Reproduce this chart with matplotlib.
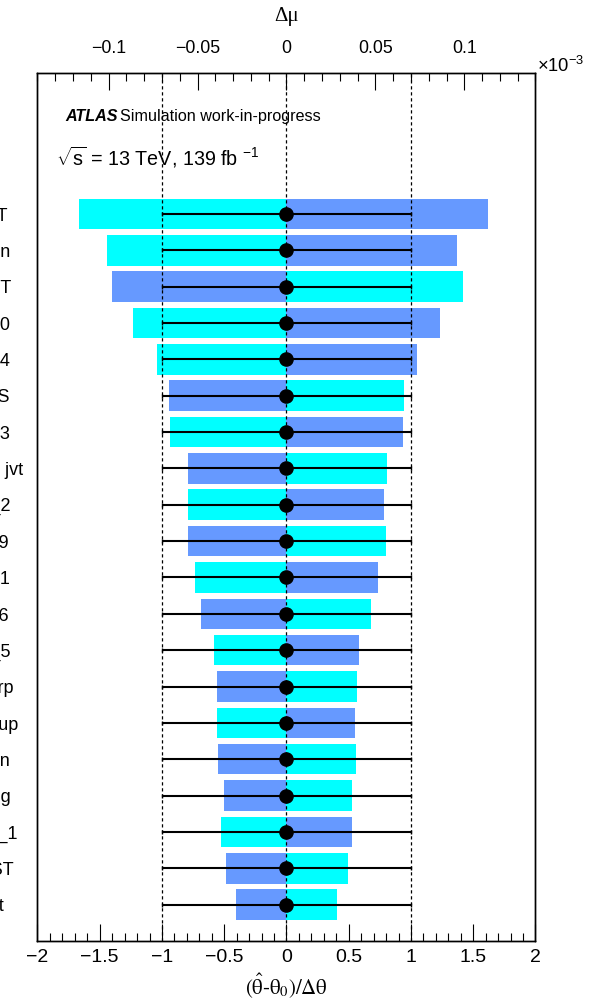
import numpy as np
import matplotlib.pyplot as plt
from matplotlib import ticker, transforms

plt.rcParams['font.family'] = ['Liberation Sans', 'DejaVu Sans']
plt.rcParams['mathtext.fontset'] = 'custom'
plt.rcParams['mathtext.rm'] = 'Liberation Sans'
plt.rcParams['mathtext.it'] = 'Liberation Sans:italic'
plt.rcParams['mathtext.bf'] = 'Liberation Sans:bold'

# nuisance parameters, ranked by impact (largest first)
names = [
    'ttbar_PS_Herwig_tMET',
    'JET_FlavorComposition',
    'ttbar_ISRFSR_Up_MET',
    'FT_EFF_Eigen_Light_0',
    'FT_EFF_Eigen_Light_4',
    'ttbar_NNLO_pTtop_IPS',
    'FT_EFF_Eigen_Light_3',
    'JET_JvtEfficiency_Sys jvt',
    'JET_EffNP_Modeling_2',
    'EL_EFF_Iso_CorrNP_9',
    'FT_EFF_Eigen_Light_1',
    'EL_EFF_Iso_CorrNP_6',
    'JET_EffNP_Modeling_5',
    'MET_SoftTrk_ResoPerp',
    'PRW_DATA_SF_Sys_up',
    'ttbar_me_PS_Radiation',
    'JET_EtaInter_Modelling',
    'FT_EFF_extrapolation_1',
    'singleTop_Wt_Norm_ST',
    'Zjets_Norm_Sherpa_st',
]

# impact on mu (x 1e-3) for +1 sigma and -1 sigma shifts
impact_up = [-0.1166, -0.1011, 0.0992, -0.0863, -0.0730, 0.0662, -0.0653,
             0.0565, -0.0555, 0.0559, -0.0513, 0.0475, -0.0409, 0.0396,
             -0.0392, 0.0389, 0.0368, -0.0366, 0.0347, 0.0284]
impact_down = [0.1131, 0.0957, -0.0983, 0.0865, 0.0732, -0.0659, 0.0655,
               -0.0555, 0.0548, -0.0555, 0.0514, -0.0479, 0.0408, -0.0392,
               0.0385, -0.0387, -0.0353, 0.0368, -0.0338, -0.0282]

# pulls and constraints
pull = [0.0, 0.0, 0.0, 0.0, 0.0, 0.0, 0.0, 0.0, 0.0, 0.0,
        0.0, 0.0, 0.0, 0.0, 0.0, 0.0, 0.0, 0.0, 0.0, 0.0]
pull_err = [1.0, 1.0, 1.0, 1.0, 1.0, 1.0, 1.0, 1.0, 1.0, 1.0,
            1.0, 1.0, 1.0, 1.0, 1.0, 1.0, 1.0, 1.0, 1.0, 1.0]

n = len(names)
ypos = np.arange(n, 0, -1)


def fmt(v, pos):
    if abs(v) < 1e-9:
        return '0'
    return ('%g' % round(v, 6)).replace('-', '\u2212')


fig = plt.figure(figsize=(5.94, 10.05), dpi=100)
ax = fig.add_axes([0.0631, 0.0637, 0.8384, 0.8634])
ax_top = ax.twiny()
ax.set_zorder(ax_top.get_zorder() + 1)
ax.patch.set_visible(False)

# impact bars on the top (delta mu) axis
ax_top.barh(ypos, impact_up, height=0.84, color='#00ffff', lw=0)
ax_top.barh(ypos, impact_down, height=0.84, color='#6699ff', lw=0)

for x in (-1, 0, 1):
    ax.axvline(x, color='k', lw=0.9, ls=(0, (2.6, 2.2)), zorder=1)

ax.errorbar(pull, ypos, xerr=pull_err, fmt='o', color='k', ms=9.5,
            elinewidth=1.5, capsize=1.5, capthick=1, zorder=3)

ax.set_xlim(-2, 2)
ax.set_ylim(0, 23.87)
ax_top.set_xlim(-0.14, 0.14)
ax.set_yticks([])

ax.xaxis.set_major_locator(ticker.MultipleLocator(0.5))
ax.xaxis.set_minor_locator(ticker.MultipleLocator(0.1))
ax.xaxis.set_major_formatter(ticker.FuncFormatter(fmt))
ax.tick_params(axis='x', which='both', direction='in', top=False, bottom=True,
               labelsize=14, pad=5.5)
ax.tick_params(axis='x', which='major', length=12.2, width=0.8)
ax.tick_params(axis='x', which='minor', length=6.1, width=0.8)

ax_top.xaxis.set_major_locator(ticker.MultipleLocator(0.05))
ax_top.xaxis.set_minor_locator(ticker.MultipleLocator(0.01))
ax_top.xaxis.set_major_formatter(ticker.FuncFormatter(fmt))
ax_top.tick_params(axis='x', which='both', direction='in', top=True, bottom=False,
                   labeltop=True, labelbottom=False, labelsize=12.8, pad=11.5)
ax_top.tick_params(axis='x', which='major', length=12.2, width=0.8)
ax_top.tick_params(axis='x', which='minor', length=6.1, width=0.8)

for a in (ax, ax_top):
    for s in a.spines.values():
        s.set_linewidth(1.0)

ax.set_xlabel(r'$(\hat{\mathrm{\theta}}$-$\mathrm{\theta}_0)/\mathrm{\Delta\theta}$',
              fontsize=15, math_fontfamily='stix', labelpad=4)
ax_top.set_xlabel('Δμ', fontsize=15, family='Liberation Serif', labelpad=14)

# parameter names, left aligned
trans = transforms.blended_transform_factory(ax.transAxes, ax.transData)
for y, name in zip(ypos, names):
    ax.text(-0.440, y, name, transform=trans, ha='left', va='center_baseline',
            fontsize=13, clip_on=False)

t = ax.text(0.0552, 0.9497, 'ATLAS', transform=ax.transAxes, fontsize=11.6,
            fontweight='bold', fontstyle='italic', va='center')
ax.annotate('Simulation work-in-progress', xy=(1, 0), xycoords=t,
            xytext=(2, 0), textcoords='offset points', fontsize=11.6,
            va='bottom')
ax.text(0.037, 0.9035, r'$\sqrt{\mathrm{s}}$ = 13 TeV, 139 fb $^{-1}$',
        transform=ax.transAxes, fontsize=14.2, va='center')

fig.text(537 / 594, 1 - 66 / 1005, r'$\times10^{-3}$', fontsize=13.2,
         va='center', ha='left')

fig.savefig('out.png', dpi=100)
